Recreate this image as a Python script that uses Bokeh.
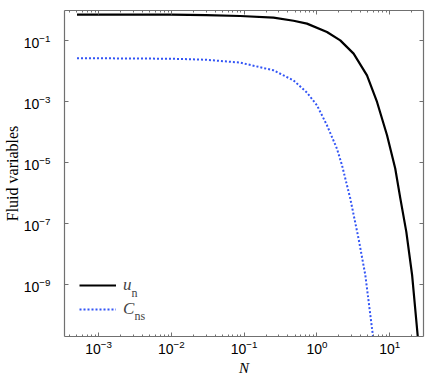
import numpy as np
from bokeh.plotting import figure
from bokeh.models import (LogAxis, FixedTicker, Legend, LegendItem, Label, Range1d,
                          CustomJSTickFormatter)
from bokeh.embed import file_html
from bokeh.resources import INLINE

# ---- data ----
N_u = [5.05e-4, 1e-3, 1e-2, 3e-2, 0.088, 0.253, 0.477, 0.729, 1.373, 2.09, 3.19,
       4.87, 6.69, 9.18, 11.9, 14.0, 16.9, 20.3, 24.2, 24.6]
u_n = [0.735, 0.734, 0.727, 0.71, 0.66, 0.585, 0.46, 0.371, 0.197, 0.105, 0.0386,
       7.5e-3, 1.0e-3, 8.1e-5, 6.6e-6, 6.8e-7, 5.5e-8, 2.1e-9, 2.2e-11, 1.2e-11]

N_c = [5.05e-4, 1e-3, 1e-2, 3e-2, 0.088, 0.253, 0.477, 0.729, 1.0, 1.373, 1.88,
       2.21, 2.87, 3.73, 4.62, 5.82, 6.0]
C_ns = [0.0271, 0.0271, 0.0262, 0.0243, 0.0196, 0.0109, 5.1e-3, 2.03e-3, 7.8e-4,
        1.72e-4, 2.96e-5, 8.4e-6, 6.8e-7, 3.3e-8, 2.1e-9, 2.6e-11, 1.4e-11]

x_major = [1e-3, 1e-2, 1e-1, 1e0, 1e1]
y_major = [1e-9, 1e-7, 1e-5, 1e-3, 1e-1]
x_minor = [m * 10.0 ** e for e in range(-4, 2) for m in range(2, 10)]

AX = "#707070"
TICK_FONT = "Liberation Sans"
SERIF = "Liberation Serif"

p = figure(width=428, height=379, x_axis_type="log", y_axis_type="log",
           x_range=Range1d(3.4e-4, 29.1), y_range=Range1d(2.04e-11, 1.0),
           output_backend="svg", toolbar_location=None,
           min_border_left=63, min_border_right=5, min_border_top=10,
           min_border_bottom=43, outline_line_color=None)
p.xgrid.visible = False
p.ygrid.visible = False

r_u = p.line(N_u, u_n, line_color="black", line_width=2.2)
r_c = p.line(N_c, C_ns, line_color="#3355f5", line_width=2, line_dash="2 2")


def style(ax, minor=True):
    ax.axis_line_color = AX
    ax.axis_line_width = 1.2
    ax.major_tick_line_color = AX
    ax.minor_tick_line_color = AX if minor else None
    ax.major_tick_in = 4
    ax.major_tick_out = 0
    ax.minor_tick_in = 2
    ax.minor_tick_out = 0
    ax.major_label_text_font = TICK_FONT
    ax.major_label_text_font_size = "14px"
    ax.major_label_text_color = "black"
    ax.axis_label_text_color = "black"


xt = FixedTicker(ticks=x_major, minor_ticks=x_minor)
yt = FixedTicker(ticks=y_major, minor_ticks=[])

xa = p.xaxis[0]
xa.ticker = xt
style(xa)
xa.major_label_standoff = 3
xa.axis_label = "N"
xa.axis_label_text_font = SERIF
xa.axis_label_text_font_style = "italic"
xa.axis_label_text_font_size = "15px"
xa.axis_label_standoff = 3

ya = p.yaxis[0]
ya.ticker = yt
style(ya, minor=False)
ya.major_label_standoff = 14
ya.axis_label = "Fluid variables"
ya.axis_label_text_font = SERIF
ya.axis_label_text_font_style = "normal"
ya.axis_label_text_font_size = "16px"
ya.axis_label_standoff = 0

blank = CustomJSTickFormatter(code="return ''")

top = LogAxis(ticker=xt, formatter=blank)
style(top)
top.major_label_standoff = 0
top.major_label_text_font_size = "1px"
p.add_layout(top, "above")

right = LogAxis(ticker=yt, formatter=blank)
style(right, minor=False)
right.major_label_standoff = 0
right.major_label_text_font_size = "1px"
p.add_layout(right, "right")

legend = Legend(items=[LegendItem(label="u", renderers=[r_u]),
                       LegendItem(label="C", renderers=[r_c])],
                location=(15, 17), padding=0, margin=0, spacing=4,
                glyph_width=37, glyph_height=20, label_height=20,
                label_standoff=7, border_line_color=None,
                background_fill_alpha=0, label_text_font=SERIF,
                label_text_font_style="italic", label_text_font_size="17px")
p.add_layout(legend)

p.add_layout(Label(x=67, y=37, x_units="screen", y_units="screen", text="n",
                   text_font=SERIF, text_font_size="12px"))
p.add_layout(Label(x=70, y=14, x_units="screen", y_units="screen", text="ns",
                   text_font=SERIF, text_font_size="12px"))

open("out.html", "w").write(file_html(p, INLINE))
